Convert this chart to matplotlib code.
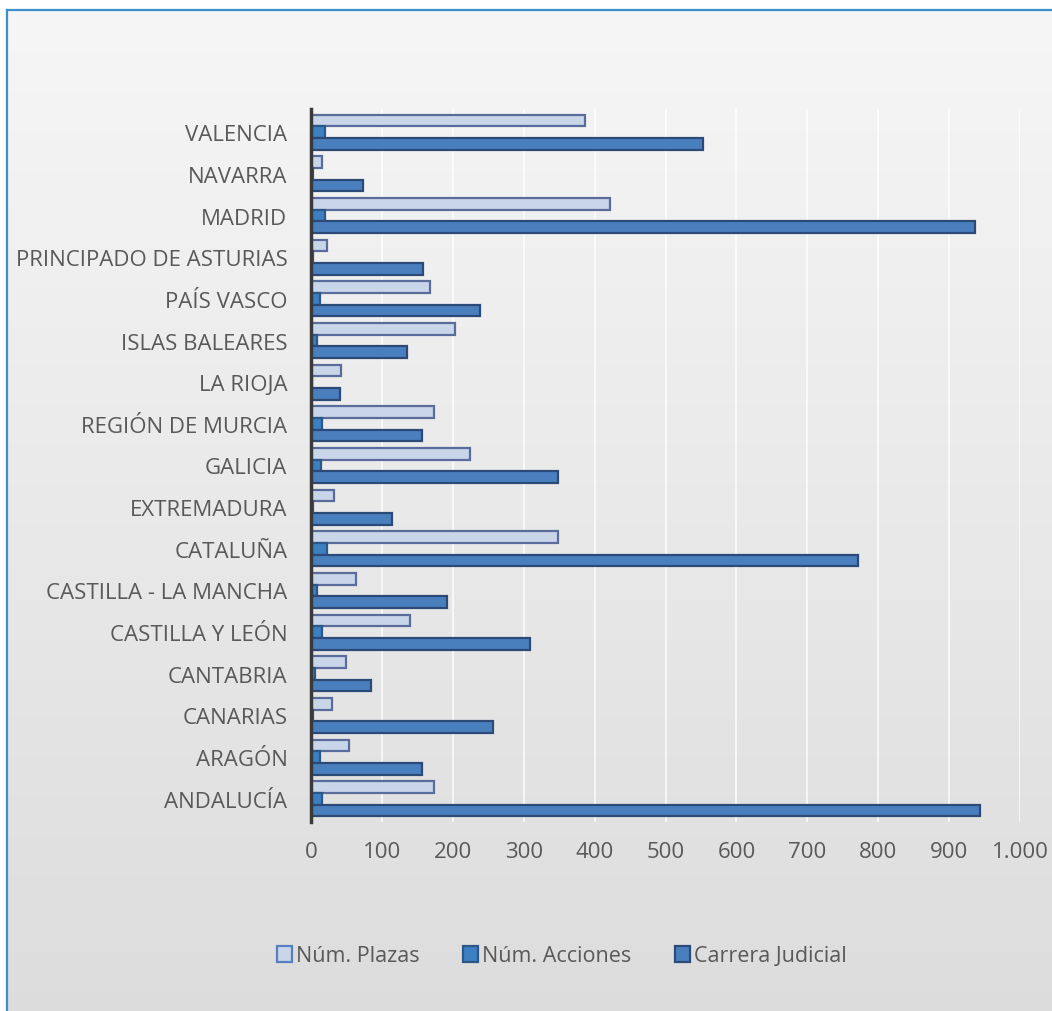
import numpy as np
import matplotlib
matplotlib.use("Agg")
import matplotlib.pyplot as plt
from matplotlib.lines import Line2D
from matplotlib.patches import Patch
from matplotlib.ticker import FuncFormatter

# regions from bottom (Andalucía) to top (Valencia)
regions = ["ANDALUCÍA", "ARAGÓN", "CANARIAS", "CANTABRIA", "CASTILLA Y LEÓN",
           "CASTILLA - LA MANCHA", "CATALUÑA", "EXTREMADURA", "GALICIA",
           "REGIÓN DE MURCIA", "LA RIOJA", "ISLAS BALEARES", "PAÍS VASCO",
           "PRINCIPADO DE ASTURIAS", "MADRID", "NAVARRA", "VALENCIA"]
plazas = [174, 53, 30, 50, 139, 63, 348, 33, 224, 174, 43, 203, 168, 23, 422, 15, 386]
acciones = [15, 12, 3, 5, 16, 8, 22, 3, 14, 16, 2, 9, 13, 3, 20, 3, 20]
carrera = [944, 156, 256, 84, 309, 192, 771, 114, 348, 157, 41, 135, 238, 158, 937, 74, 553]
series_names = ["Núm. Plazas", "Núm. Acciones", "Carrera Judicial"]
xticks = [0, 100, 200, 300, 400, 500, 600, 700, 800, 900, 1000]

W, H = 1052, 1012
fig = plt.figure(figsize=(W / 100, H / 100), dpi=100)
fig.patch.set_facecolor("white")

# soft gray gradient behind the chart
bg = fig.add_axes([7 / W, 0, 1 - 7 / W, 1 - 11 / H], zorder=-5)
grad = np.linspace(0, 1, 256).reshape(-1, 1)
top = np.array([0.965, 0.965, 0.965])
bot = np.array([0.865, 0.865, 0.865])
img = top + (bot - top) * grad[..., None]
img = np.repeat(img, 4, axis=1)
bg.imshow(img, aspect="auto", extent=[0, 1, 0, 1])
bg.set_axis_off()

# blue frame (top and left edges)
fig.add_artist(Line2D([7 / W, 1], [1 - 11 / H, 1 - 11 / H], color="#3d8fc9", lw=1.6))
fig.add_artist(Line2D([7 / W, 7 / W], [0, 1 - 11 / H], color="#3d8fc9", lw=1.6))

ax = fig.add_axes([311 / W, 1 - 823 / H, (1020 - 311) / W, (823 - 110) / H])
ax.set_facecolor("none")

y = np.arange(len(regions))
h = 0.28
ax.barh(y + h, plazas, height=h, color="#c9d6ea", edgecolor="#5a6c9c", lw=1.6, zorder=3)
ax.barh(y, acciones, height=h, color="#3c80c2", edgecolor="#2b5889", lw=1.6, zorder=3)
ax.barh(y - h, carrera, height=h, color="#4a7fbd", edgecolor="#2b4a78", lw=1.6, zorder=3)

ax.set_xlim(0, 1000)
ax.set_ylim(-0.56, len(regions) - 0.44)
ax.set_xticks(xticks)
ax.xaxis.set_major_formatter(FuncFormatter(lambda v, p: f"{int(v):,}".replace(",", ".")))
ax.set_yticks(y)
ax.set_yticklabels(regions)

for s in ["top", "right", "bottom"]:
    ax.spines[s].set_visible(False)
ax.spines["left"].set_color("#3a3a3a")
ax.spines["left"].set_linewidth(2.5)
ax.spines["left"].set_zorder(4)

ax.grid(axis="x", color="white", lw=1.5, alpha=0.7, zorder=0)
ax.tick_params(axis="both", length=0, labelsize=16, labelcolor="#595959")
ax.tick_params(axis="y", pad=17)
ax.tick_params(axis="x", pad=14)
for t in ax.get_xticklabels() + ax.get_yticklabels():
    t.set_fontfamily("Open Sans")

handles = [Patch(facecolor="#c9d6ea", edgecolor="#5a7fbf", lw=1.6),
           Patch(facecolor="#3c80c2", edgecolor="#2b5889", lw=1.6),
           Patch(facecolor="#4a7fbd", edgecolor="#2b4a78", lw=1.6)]
leg = fig.legend(handles, series_names, loc="center", bbox_to_anchor=(562 / W, 1 - 957 / H),
                 ncol=3, frameon=False, handlelength=0.7, handleheight=0.7,
                 handletextpad=0.2, columnspacing=2.0,
                 prop={"family": "Open Sans", "size": 15.5})
for t in leg.get_texts():
    t.set_color("#595959")

fig.savefig("out.png", dpi=100)
